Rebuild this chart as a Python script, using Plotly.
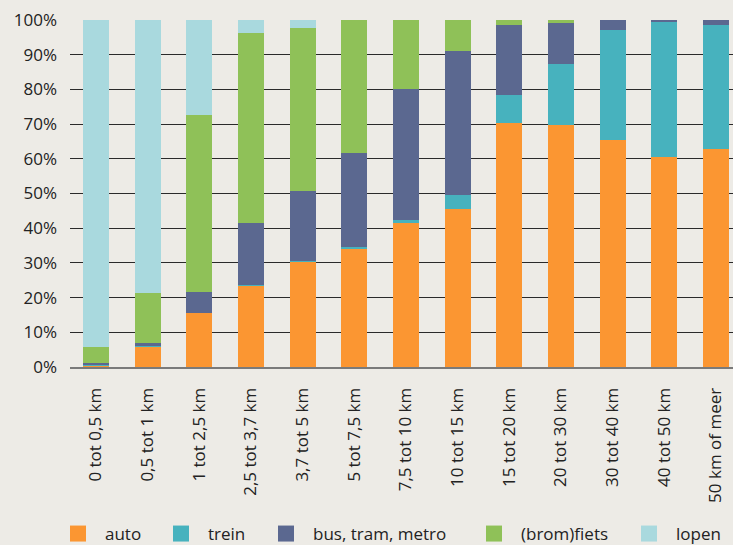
import plotly.graph_objects as go

categories = ["0 tot 0,5 km", "0,5 tot 1 km", "1 tot 2,5 km", "2,5 tot 3,7 km",
              "3,7 tot 5 km", "5 tot 7,5 km", "7,5 tot 10 km", "10 tot 15 km",
              "15 tot 20 km", "20 tot 30 km", "30 tot 40 km", "40 tot 50 km",
              "50 km of meer"]
auto = [0.5, 5.8, 15.6, 23.5, 30.5, 34.0, 41.5, 45.4, 70.4, 69.8, 65.3, 60.4, 62.7]
trein = [0.2, 0.3, 0.1, 0.1, 0.1, 0.6, 1.0, 4.1, 8.1, 17.4, 31.7, 38.9, 36.0]
bus = [0.5, 0.9, 5.9, 17.8, 20.1, 27.0, 37.6, 41.6, 20.1, 12.0, 3.0, 0.7, 1.3]
fiets = [4.6, 14.3, 50.9, 54.9, 47.1, 38.4, 19.9, 8.9, 1.4, 0.8, 0.0, 0.0, 0.0]
lopen = [94.2, 78.7, 27.5, 3.7, 2.2, 0.0, 0.0, 0.0, 0.0, 0.0, 0.0, 0.0, 0.0]

series_names = ["auto", "trein", "bus, tram, metro", "(brom)fiets", "lopen"]
series_values = [auto, trein, bus, fiets, lopen]
colors = ["#FB9632", "#47B2BE", "#5B6890", "#8FC158", "#A9D9DE"]
y_ticks = [0, 10, 20, 30, 40, 50, 60, 70, 80, 90, 100]
y_tick_labels = [f"{v}%" for v in y_ticks]

BG = "#EDEBE6"
FONT = "Open Sans"

fig = go.Figure()
legend_ids = ["legend", "legend2", "legend3", "legend4", "legend5"]
for name, vals, col, lid in zip(series_names, series_values, colors, legend_ids):
    fig.add_trace(go.Bar(x=categories, y=vals, name=name, marker=dict(color=col, line=dict(width=0)),
                         showlegend=False))
    fig.add_trace(go.Scatter(x=[None], y=[None], mode="markers", name=name,
                             marker=dict(symbol="square", size=18, color=col),
                             legend=lid, showlegend=True))

W, H = 733, 545
L, R, T, B = 70, 0, 20, 178
pw = W - L - R
ph = H - T - B

# legend text start positions (px)
text_x = [105, 208, 313, 521, 676]
leg_layout = {}
for lid, tx in zip(legend_ids, text_x):
    xp = (tx - 54 - L) / pw
    leg_layout[lid] = dict(x=xp, xanchor="left", y=(H - B - 534) / ph, yanchor="middle",
                           font=dict(family=FONT, size=17, color="#222222"),
                           bgcolor="rgba(0,0,0,0)", borderwidth=0, itemsizing="trace",
                           itemwidth=44)

fig.update_layout(
    width=W, height=H,
    margin=dict(l=L, r=R, t=T, b=B, pad=0, autoexpand=False),
    paper_bgcolor=BG, plot_bgcolor=BG,
    barmode="stack", bargap=0.497,
    font=dict(family=FONT, size=17, color="#222222"),
    **leg_layout,
)
fig.update_xaxes(range=[-0.5, 12.33], tickangle=-90, showgrid=False, showline=True,
                 linecolor="#7a7a7a", linewidth=2, ticks="", ticklabelstandoff=12,
                 automargin=False,
                 tickfont=dict(family=FONT, size=17, color="#222222"), zeroline=False)
fig.update_yaxes(range=[0, 100], tickmode="array", tickvals=y_ticks, ticktext=y_tick_labels,
                 showgrid=True, gridcolor="#2a2a2a", gridwidth=1, zeroline=False,
                 showline=False, ticks="", ticklabelstandoff=12, automargin=False,
                 tickfont=dict(family=FONT, size=17, color="#222222"))

fig.write_html("out.html", config={"displayModeBar": False},
               post_script="document.body.style.margin='0';document.body.style.padding='0';")
